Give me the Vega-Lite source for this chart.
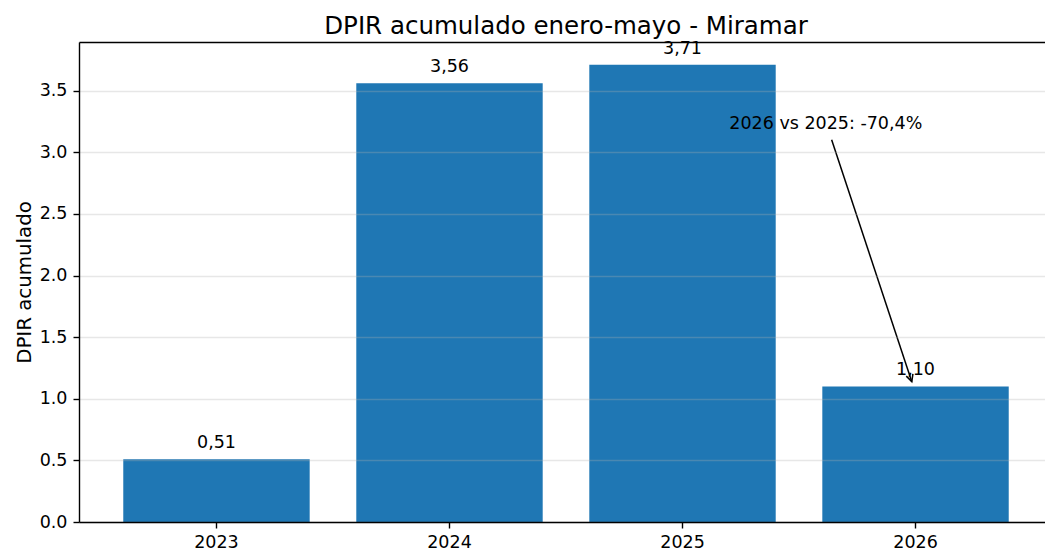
{
  "$schema": "https://vega.github.io/schema/vega-lite/v6.json",
  "width": 966,
  "height": 480,
  "autosize": {"type": "none"},
  "padding": {"left": 79, "top": 42, "right": 0, "bottom": 29},
  "background": "white",
  "config": {
    "view": {"stroke": null},
    "font": "DejaVu Sans",
    "text": {"font": "DejaVu Sans"}
  },
  "title": {
    "text": "DPIR acumulado enero-mayo - Miramar",
    "font": "DejaVu Sans",
    "fontSize": 24.5,
    "fontWeight": "normal",
    "color": "black",
    "anchor": "middle",
    "frame": "group",
    "baseline": "alphabetic",
    "offset": 9,
    "dx": 4,
    "dy": 28
  },
  "resolve": {"scale": {"x": "independent"}},
  "layer": [
    {
      "data": {
        "values": [
          {"year": "2023", "value": 0.51, "label": "0,51"},
          {"year": "2024", "value": 3.56, "label": "3,56"},
          {"year": "2025", "value": 3.71, "label": "3,71"},
          {"year": "2026", "value": 1.10, "label": "1,10"}
        ]
      },
      "encoding": {
        "x": {
          "field": "year",
          "type": "ordinal",
          "scale": {"range": [0, 974], "paddingInner": 0.2, "paddingOuter": 0.19},
          "axis": {
            "labelAngle": 0,
            "title": null,
            "grid": false,
            "domainColor": "black",
            "domainWidth": 1.4,
            "tickColor": "black",
            "tickWidth": 1.4,
            "tickSize": 6,
            "labelPadding": 5,
            "labelFont": "DejaVu Sans",
            "labelFontSize": 17.5,
            "labelColor": "black",
            "zindex": 1
          }
        },
        "y": {
          "field": "value",
          "type": "quantitative",
          "scale": {"domain": [0, 3.8955], "nice": false, "zero": true},
          "axis": {
            "values": [0, 0.5, 1, 1.5, 2, 2.5, 3, 3.5],
            "format": ".1f",
            "grid": true,
            "gridColor": "#b0b0b0",
            "gridOpacity": 0.3,
            "gridWidth": 1.4,
            "domainColor": "black",
            "domainWidth": 1.4,
            "tickColor": "black",
            "tickWidth": 1.4,
            "tickSize": 6,
            "labelPadding": 6,
            "labelFont": "DejaVu Sans",
            "labelFontSize": 17.5,
            "labelColor": "black",
            "title": "DPIR acumulado",
            "titleFont": "DejaVu Sans",
            "titleFontSize": 19.8,
            "titleFontWeight": "normal",
            "titleColor": "black",
            "titleAngle": -90,
            "titleAlign": "center",
            "titleBaseline": "alphabetic",
            "titleX": -49,
            "titleY": 240,
            "zindex": 1
          }
        }
      },
      "layer": [
        {"mark": {"type": "bar", "color": "#1f77b4"}},
        {
          "mark": {"type": "text", "baseline": "alphabetic", "align": "center", "dy": -11, "fontSize": 17.5, "color": "black", "font": "DejaVu Sans"},
          "encoding": {"text": {"field": "label"}}
        }
      ]
    },
    {
      "data": {
        "values": [
          {"tx": 2.615, "ty": 3.191, "x1": 2.64, "y1": 3.102, "x2": 2.984, "y2": 1.139, "note": "2026 vs 2025: -70,4%"}
        ]
      },
      "layer": [
        {
          "mark": {"type": "rule", "color": "black", "strokeWidth": 1.5},
          "encoding": {
            "x": {
              "field": "x1",
              "type": "quantitative",
              "scale": {"domain": [-0.59, 3.59], "range": [0, 974], "nice": false, "zero": false},
              "axis": {"orient": "top", "labels": false, "ticks": false, "grid": false, "title": null, "domain": true, "domainColor": "black", "domainWidth": 1.4}
            },
            "y": {"field": "y1", "type": "quantitative"},
            "x2": {"field": "x2"},
            "y2": {"field": "y2"}
          }
        },
        {
          "mark": {"type": "point", "shape": "M-0.5,-1L0,0L0.5,-1", "size": 196, "filled": false, "stroke": "black", "strokeWidth": 1.5, "angle": 341.7, "opacity": 1},
          "encoding": {
            "x": {"field": "x2", "type": "quantitative"},
            "y": {"field": "y2", "type": "quantitative"}
          }
        },
        {
          "mark": {"type": "text", "baseline": "alphabetic", "align": "center", "fontSize": 17.5, "color": "black", "font": "DejaVu Sans"},
          "encoding": {
            "x": {"field": "tx", "type": "quantitative"},
            "y": {"field": "ty", "type": "quantitative"},
            "text": {"field": "note"}
          }
        }
      ]
    }
  ]
}
